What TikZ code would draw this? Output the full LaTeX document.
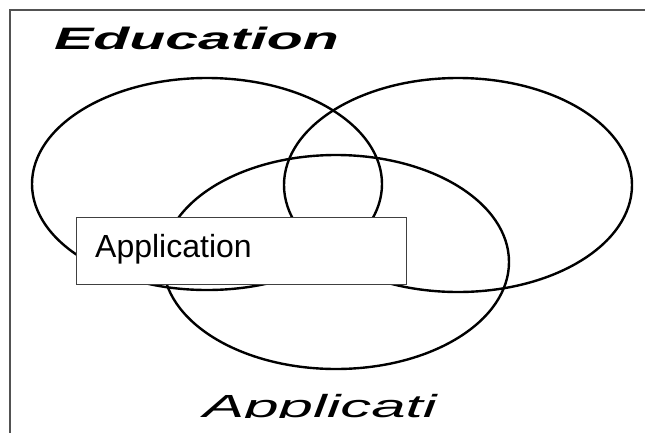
\documentclass[tikz,border=0pt]{standalone}
\usepackage{fontspec}
\setmainfont{Liberation Sans}
\newfontfamily\edufont[FakeStretch=1.9]{Liberation Sans}
\newfontfamily\appfont[FakeStretch=1.93]{Liberation Sans}
\begin{document}
\begin{tikzpicture}[x=1pt,y=-1pt,
  ring/.style={draw=black, line width=2.4pt},
  frameline/.style={draw=black!68, line width=2pt},
  labelbox/.style={draw=black!75, line width=1pt, fill=white},
  boxtext/.style={anchor=base west, inner sep=0pt, font=\fontsize{32}{38}\selectfont},
  titletext/.style={anchor=base west, inner sep=0pt}]
\useasboundingbox (0,0) rectangle (645,432);
% frame (open on the right and bottom)
\draw[frameline] (10,440) -- (10,10) -- (650,10);
% the three rings
\draw[ring] (207,184) ellipse [x radius=175, y radius=106];
\draw[ring] (458,185) ellipse [x radius=174, y radius=107];
\draw[ring] (336,262) ellipse [x radius=173, y radius=107];
% label box
\filldraw[labelbox] (76,217) rectangle (406,284);
\node[boxtext] (app) at (95,257) {Application};
% titles, cut along their baselines
\begin{scope}
  \clip (0,0) rectangle (645,49);
  \node[titletext, font=\edufont\bfseries\itshape\fontsize{31}{36}\selectfont] (edu) at (54,49) {Education};
\end{scope}
\begin{scope}
  \clip (0,300) rectangle (645,417);
  \node[titletext, font=\appfont\itshape\fontsize{32}{38}\selectfont] (appl) at (203,417) {Applicati};
\end{scope}
\end{tikzpicture}
\end{document}
